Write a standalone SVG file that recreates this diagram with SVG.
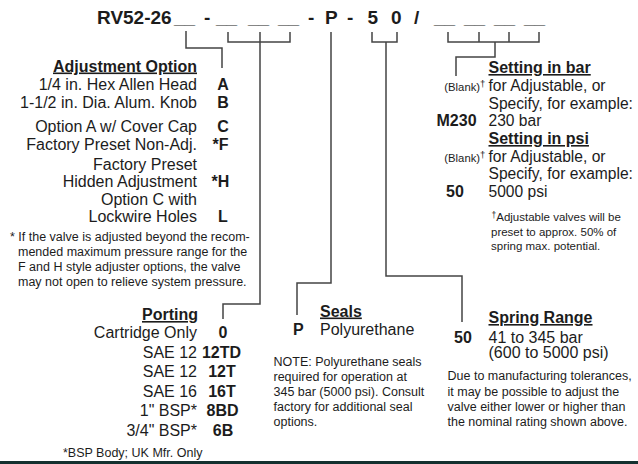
<svg xmlns="http://www.w3.org/2000/svg" width="638" height="464" viewBox="0 0 638 464">
<style>
text{font-family:"Liberation Sans",Arial,Helvetica,sans-serif;fill:#1c1c1c}
.t{font-size:19px;font-weight:bold}
.h{font-size:16px;font-weight:bold;text-decoration:underline}
.b{font-size:16px}
.r{font-size:15.6px}
.k{font-size:16px;font-weight:bold}
.s{font-size:12.5px}
.f{font-size:11.5px}
.bl{font-size:11.3px}
.end{text-anchor:end}
.mid{text-anchor:middle}
.c{fill:none;stroke:#444;stroke-width:1.5}
</style>
<rect width="638" height="464" fill="#fff"/>
<g id="title">
<text class="t" y="23.5"><tspan x="97">RV52-26</tspan> <tspan x="174">__</tspan> <tspan x="204">-</tspan> <tspan x="216">__</tspan> <tspan x="248">__</tspan> <tspan x="278">__</tspan> <tspan x="308">-</tspan> <tspan x="325">P</tspan> <tspan x="347">-</tspan> <tspan x="367.5">5</tspan> <tspan x="391">0</tspan> <tspan x="414">/</tspan> <tspan x="434">__</tspan> <tspan x="464">__</tspan> <tspan x="494">__</tspan> <tspan x="524">__</tspan></text>
</g>
<g id="connectors">
<path class="c" d="M186,31V48H222V68"/>
<path class="c" d="M228,32V42H290V32M260,32V304H223V319"/>
<path class="c" d="M331,32V283H297V315"/>
<path class="c" d="M372,32V42H397V32M386,42V276H462V322"/>
<path class="c" d="M448,32V42H539V32M479,32V42M509,32V42M495,42V57H456V76"/>
</g>
<g id="adjustment-option">
<text class="h end" x="197" y="71.5">Adjustment Option</text>
<text class="b end" x="197" y="90">1/4 in. Hex Allen Head</text>
<text class="b end" x="197" y="108">1-1/2 in. Dia. Alum. Knob</text>
<text class="b end" x="197" y="131.5">Option A w/ Cover Cap</text>
<text class="b end" x="197" y="150">Factory Preset Non-Adj.</text>
<text class="b end" x="197" y="170">Factory Preset</text>
<text class="b end" x="197" y="186.5">Hidden Adjustment</text>
<text class="b end" x="197" y="205">Option C with</text>
<text class="b end" x="197" y="221.5">Lockwire Holes</text>
<text class="k mid" x="223" y="90">A</text>
<text class="k mid" x="223" y="108">B</text>
<text class="k mid" x="223" y="131.5">C</text>
<text class="k mid" x="220.5" y="150">*F</text>
<text class="k mid" x="220.5" y="186.5">*H</text>
<text class="k mid" x="223" y="221.5">L</text>
<text class="s" y="241"><tspan x="10">* If the valve is adjusted beyond the recom-</tspan><tspan x="18" y="256">mended maximum pressure range for the</tspan><tspan x="18" y="271">F and H style adjuster options, the valve</tspan><tspan x="18" y="286">may not open to relieve system pressure.</tspan></text>
</g>
<g id="porting">
<text class="h end" x="198" y="320">Porting</text>
<text class="b end" x="197" y="338">Cartridge Only</text>
<text class="b end" x="197" y="358">SAE 12</text>
<text class="b end" x="197" y="376.5">SAE 12</text>
<text class="b end" x="197" y="396.5">SAE 16</text>
<text class="b end" x="197" y="416">1" BSP*</text>
<text class="b end" x="197" y="436">3/4" BSP*</text>
<text class="k mid" x="223" y="338">0</text>
<text class="k mid" x="221.5" y="358">12TD</text>
<text class="k mid" x="222" y="376.5">12T</text>
<text class="k mid" x="222" y="396.5">16T</text>
<text class="k mid" x="222.5" y="416">8BD</text>
<text class="k mid" x="223" y="436">6B</text>
<text class="s" x="63" y="457">*BSP Body; UK Mfr. Only</text>
</g>
<g id="seals">
<text class="h" x="320" y="316.5">Seals</text>
<text class="k" x="293" y="335">P</text>
<text class="b" x="320" y="335">Polyurethane</text>
<text class="s" x="273.5" y="366">NOTE: Polyurethane seals<tspan x="273.5" y="381">required for operation at</tspan><tspan x="273.5" y="396">345 bar (5000 psi). Consult</tspan><tspan x="273.5" y="411">factory for additional seal</tspan><tspan x="273.5" y="426">options.</tspan></text>
</g>
<g id="spring-range">
<text class="h" x="488.5" y="323">Spring Range</text>
<text class="k" x="454" y="342.5">50</text>
<text class="b" x="488.5" y="342.5">41 to 345 bar</text>
<text class="b" x="488.5" y="358">(600 to 5000 psi)</text>
<text class="s" x="447.5" y="380">Due to manufacturing tolerances,<tspan x="447.5" y="395.5">it may be possible to adjust the</tspan><tspan x="447.5" y="411">valve either lower or higher than</tspan><tspan x="447.5" y="426">the nominal rating shown above.</tspan></text>
</g>
<g id="setting">
<text class="h" x="488.5" y="73">Setting in bar</text>
<text class="bl" x="444.3" y="90.5">(Blank)<tspan font-size="9.5" dy="-4">†</tspan></text>
<text class="r" x="488.5" y="91">for Adjustable, or</text>
<text class="r" x="488.5" y="108.5">Specify, for example:</text>
<text class="k" x="436.5" y="126">M230</text>
<text class="r" x="488.5" y="126">230 bar</text>
<text class="h" x="488.5" y="144">Setting in psi</text>
<text class="bl" x="444.3" y="161.5">(Blank)<tspan font-size="9.5" dy="-4">†</tspan></text>
<text class="r" x="488.5" y="162">for Adjustable, or</text>
<text class="r" x="488.5" y="178.5">Specify, for example:</text>
<text class="k" x="446" y="196.5">50</text>
<text class="r" x="488.5" y="196.5">5000 psi</text>
<text class="f" x="491.5" y="220.5"><tspan font-size="8.5" dy="-3">†</tspan><tspan dy="3">Adjustable valves will be</tspan><tspan x="491" y="236">preset to approx. 50% of</tspan><tspan x="491" y="250">spring max. potential.</tspan></text>
</g>
<rect x="0" y="461" width="638" height="3" fill="#14302f"/>
</svg>
